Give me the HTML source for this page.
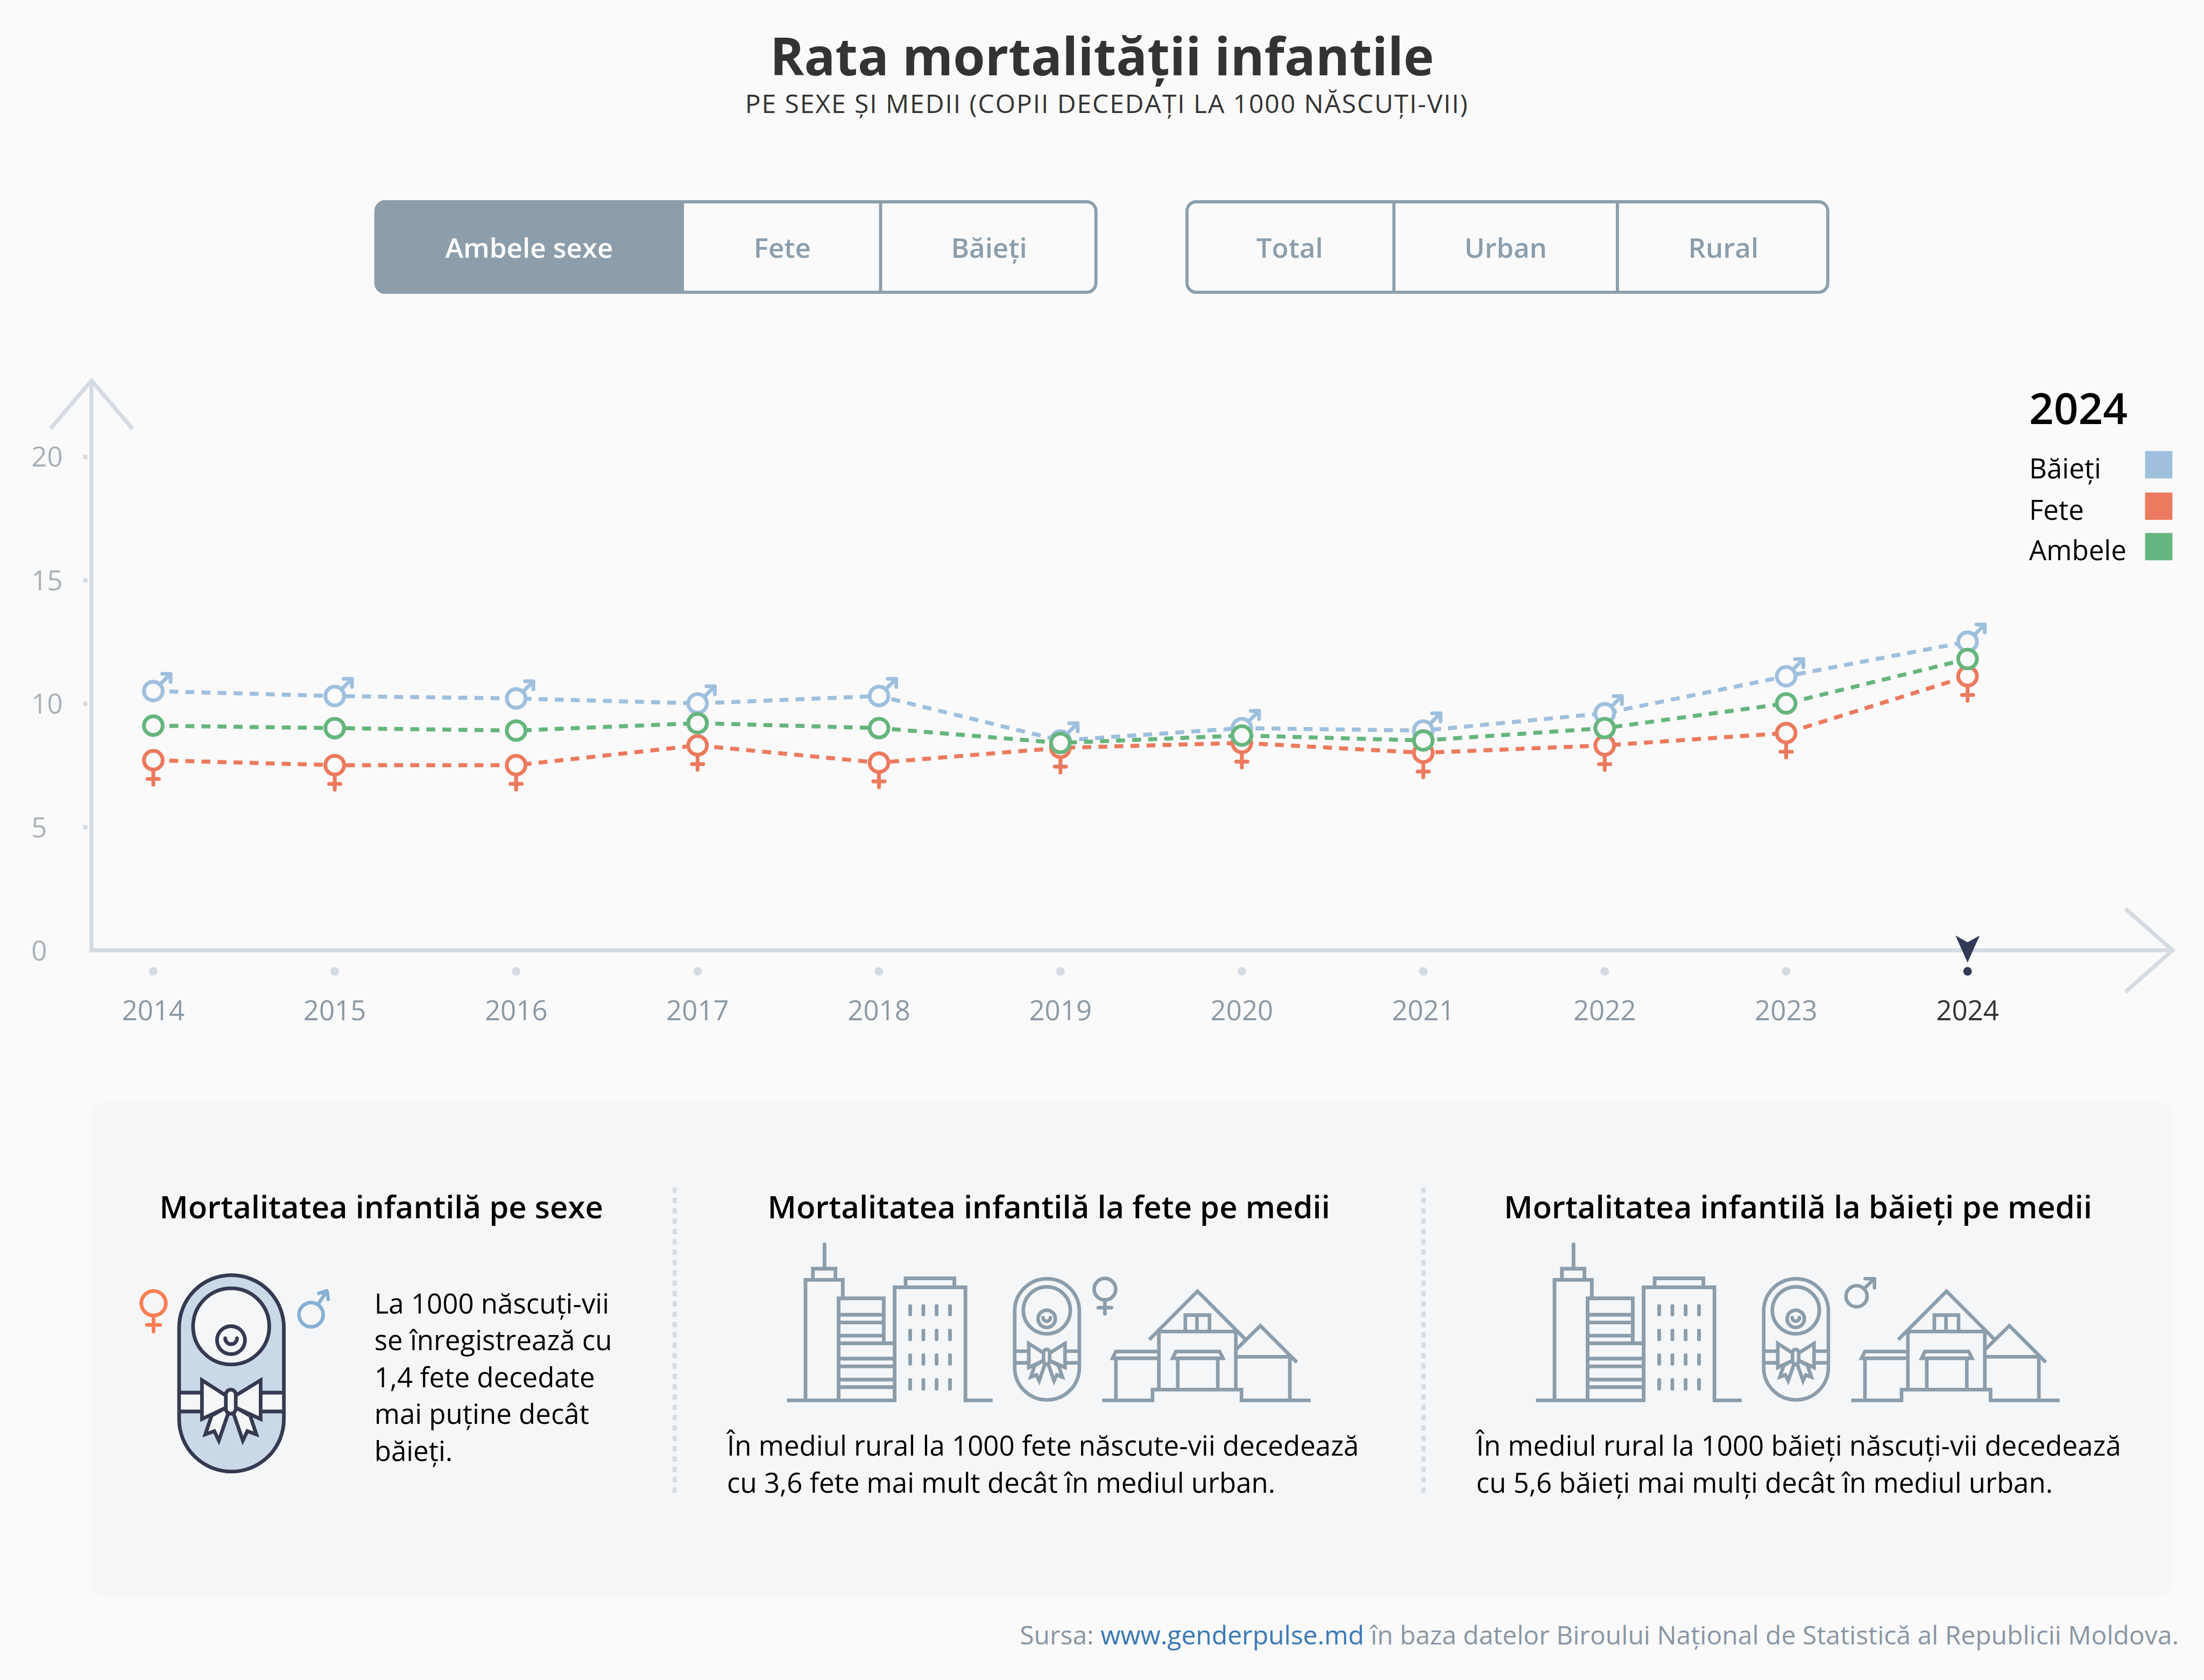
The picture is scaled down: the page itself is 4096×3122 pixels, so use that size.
<!DOCTYPE html>
<html lang="ro"><head><meta charset="utf-8"><title>Rata mortalității infantile</title>
<style>
html,body{margin:0;padding:0;background:#fafafa;}
body{width:4096px;height:3122px;position:relative;overflow:hidden;font-family:'Open Sans', 'Liberation Sans', Arial, sans-serif;}
svg text{font-family:'Open Sans', 'Liberation Sans', Arial, sans-serif;}
</style></head><body>
<svg width="4096" height="3122" viewBox="0 0 4096 3122" style="position:absolute;left:0;top:0;font-family:'Open Sans', 'Liberation Sans', Arial, sans-serif">
<rect x="0" y="0" width="4096" height="3122" fill="#fafafa"/>
<text x="2048" y="140" font-size="96" fill="#333333" font-weight="700" text-anchor="middle" textLength="1233.9844" lengthAdjust="spacingAndGlyphs">Rata mortalității infantile</text>
<text x="1384.8" y="210.2" font-size="48" fill="#333333" font-weight="400" text-anchor="start" letter-spacing="1.92" textLength="1344.6094" lengthAdjust="spacingAndGlyphs">PE SEXE ȘI MEDII (COPII DECEDAȚI LA 1000 NĂSCUȚI-VII)</text>
<path d="M715.8 372.1 H1271.1 V546 H715.8 A20 20 0 0 1 695.8 526 V392.1 A20 20 0 0 1 715.8 372.1 Z" fill="#8c9eab"/>
<rect x="698.7" y="375" width="1338" height="168.1" rx="17.1" fill="none" stroke="#8c9eab" stroke-width="5.8"/>
<line x1="1636.5" y1="372.1" x2="1636.5" y2="546" stroke="#8c9eab" stroke-width="5.8"/>
<rect x="2205.9" y="375" width="1190.9" height="168.1" rx="17.1" fill="none" stroke="#8c9eab" stroke-width="5.8"/>
<line x1="2590.5" y1="372.1" x2="2590.5" y2="546" stroke="#8c9eab" stroke-width="5.8"/>
<line x1="3005.9" y1="372.1" x2="3005.9" y2="546" stroke="#8c9eab" stroke-width="5.8"/>
<text x="983.45" y="479.3" font-size="51" fill="#ffffff" font-weight="600" text-anchor="middle" textLength="312.0625" lengthAdjust="spacingAndGlyphs">Ambele sexe</text>
<text x="1453.8" y="479.3" font-size="51" fill="#8c9eab" font-weight="600" text-anchor="middle" textLength="106.1094" lengthAdjust="spacingAndGlyphs">Fete</text>
<text x="1838.05" y="479.3" font-size="51" fill="#8c9eab" font-weight="600" text-anchor="middle" textLength="141.2031" lengthAdjust="spacingAndGlyphs">Băieți</text>
<text x="2396.75" y="479.3" font-size="51" fill="#8c9eab" font-weight="600" text-anchor="middle" textLength="123.9219" lengthAdjust="spacingAndGlyphs">Total</text>
<text x="2798.2" y="479.3" font-size="51" fill="#8c9eab" font-weight="600" text-anchor="middle" textLength="153.6250" lengthAdjust="spacingAndGlyphs">Urban</text>
<text x="3202.8" y="479.3" font-size="51" fill="#8c9eab" font-weight="600" text-anchor="middle" textLength="130.7969" lengthAdjust="spacingAndGlyphs">Rural</text>
<g fill="none" stroke="#d4dbe2" stroke-width="7.5">
<line x1="170" y1="708" x2="170" y2="1769.75"/>
<polyline points="94,796.4 170,707.2 246,796.4" stroke-linejoin="miter" stroke-miterlimit="10"/>
<line x1="166.25" y1="1766" x2="4038" y2="1766"/>
<polyline points="3950,1688.6 4037.5,1766 3950,1843.4" stroke-linejoin="miter" stroke-miterlimit="10"/>
</g>
<rect x="154.5" y="845" width="8" height="8" fill="#d4dbe2"/>
<rect x="154.5" y="1074.4" width="8" height="8" fill="#d4dbe2"/>
<rect x="154.5" y="1303.8" width="8" height="8" fill="#d4dbe2"/>
<rect x="154.5" y="1533.2" width="8" height="8" fill="#d4dbe2"/>
<text x="58.3" y="867.4" font-size="51" fill="#a9b1b8" font-weight="400" text-anchor="start" textLength="58.3281" lengthAdjust="spacingAndGlyphs">20</text>
<text x="58.3" y="1096.8" font-size="51" fill="#a9b1b8" font-weight="400" text-anchor="start" textLength="58.3281" lengthAdjust="spacingAndGlyphs">15</text>
<text x="58.3" y="1326.2" font-size="51" fill="#a9b1b8" font-weight="400" text-anchor="start" textLength="58.3281" lengthAdjust="spacingAndGlyphs">10</text>
<text x="58.3" y="1555.6" font-size="51" fill="#a9b1b8" font-weight="400" text-anchor="start" textLength="29.1719" lengthAdjust="spacingAndGlyphs">5</text>
<text x="58.3" y="1785" font-size="51" fill="#a9b1b8" font-weight="400" text-anchor="start" textLength="29.1719" lengthAdjust="spacingAndGlyphs">0</text>
<circle cx="284.9" cy="1805.2" r="8" fill="#d4dbe2"/>
<text x="284.9" y="1896.3" font-size="51" fill="#8c99a5" font-weight="400" text-anchor="middle" textLength="116.6562" lengthAdjust="spacingAndGlyphs">2014</text>
<circle cx="622.07" cy="1805.2" r="8" fill="#d4dbe2"/>
<text x="622.07" y="1896.3" font-size="51" fill="#8c99a5" font-weight="400" text-anchor="middle" textLength="116.6562" lengthAdjust="spacingAndGlyphs">2015</text>
<circle cx="959.24" cy="1805.2" r="8" fill="#d4dbe2"/>
<text x="959.24" y="1896.3" font-size="51" fill="#8c99a5" font-weight="400" text-anchor="middle" textLength="116.6562" lengthAdjust="spacingAndGlyphs">2016</text>
<circle cx="1296.41" cy="1805.2" r="8" fill="#d4dbe2"/>
<text x="1296.41" y="1896.3" font-size="51" fill="#8c99a5" font-weight="400" text-anchor="middle" textLength="116.6562" lengthAdjust="spacingAndGlyphs">2017</text>
<circle cx="1633.58" cy="1805.2" r="8" fill="#d4dbe2"/>
<text x="1633.58" y="1896.3" font-size="51" fill="#8c99a5" font-weight="400" text-anchor="middle" textLength="116.6562" lengthAdjust="spacingAndGlyphs">2018</text>
<circle cx="1970.75" cy="1805.2" r="8" fill="#d4dbe2"/>
<text x="1970.75" y="1896.3" font-size="51" fill="#8c99a5" font-weight="400" text-anchor="middle" textLength="116.6562" lengthAdjust="spacingAndGlyphs">2019</text>
<circle cx="2307.92" cy="1805.2" r="8" fill="#d4dbe2"/>
<text x="2307.92" y="1896.3" font-size="51" fill="#8c99a5" font-weight="400" text-anchor="middle" textLength="116.6562" lengthAdjust="spacingAndGlyphs">2020</text>
<circle cx="2645.09" cy="1805.2" r="8" fill="#d4dbe2"/>
<text x="2645.09" y="1896.3" font-size="51" fill="#8c99a5" font-weight="400" text-anchor="middle" textLength="116.6562" lengthAdjust="spacingAndGlyphs">2021</text>
<circle cx="2982.26" cy="1805.2" r="8" fill="#d4dbe2"/>
<text x="2982.26" y="1896.3" font-size="51" fill="#8c99a5" font-weight="400" text-anchor="middle" textLength="116.6562" lengthAdjust="spacingAndGlyphs">2022</text>
<circle cx="3319.43" cy="1805.2" r="8" fill="#d4dbe2"/>
<text x="3319.43" y="1896.3" font-size="51" fill="#8c99a5" font-weight="400" text-anchor="middle" textLength="116.6562" lengthAdjust="spacingAndGlyphs">2023</text>
<path d="M3634.1 1738.4 L3656.6 1751.1 L3679.1 1738.4 L3656.6 1788.8 Z" fill="#323a56"/>
<circle cx="3656.6" cy="1805.1" r="8" fill="#323a56"/>
<text x="3656.6" y="1896.3" font-size="51" fill="#333333" font-weight="400" text-anchor="middle" textLength="116.6562" lengthAdjust="spacingAndGlyphs">2024</text>
<polyline points="284.9,1284.26 622.07,1293.44 959.24,1298.02 1296.41,1307.2 1633.58,1293.44 1970.75,1376.02 2307.92,1353.08 2645.09,1357.67 2982.26,1325.55 3319.43,1256.73 3656.6,1192.5" fill="none" stroke="#9fc0dd" stroke-width="7.5" stroke-dasharray="16.6 13.25"/>
<path d="M297.2 1271.96 L316.9 1252.26 M301.4 1252.26 L316.9 1252.26 L316.9 1267.26" fill="none" stroke="#9fc0dd" stroke-width="7.1" stroke-linecap="round" stroke-linejoin="round"/>
<circle cx="284.9" cy="1284.26" r="17.4" fill="#fafafa" stroke="#9fc0dd" stroke-width="7.1"/>
<path d="M634.37 1281.13 L654.07 1261.44 M638.57 1261.44 L654.07 1261.44 L654.07 1276.44" fill="none" stroke="#9fc0dd" stroke-width="7.1" stroke-linecap="round" stroke-linejoin="round"/>
<circle cx="622.07" cy="1293.44" r="17.4" fill="#fafafa" stroke="#9fc0dd" stroke-width="7.1"/>
<path d="M971.54 1285.72 L991.24 1266.02 M975.74 1266.02 L991.24 1266.02 L991.24 1281.02" fill="none" stroke="#9fc0dd" stroke-width="7.1" stroke-linecap="round" stroke-linejoin="round"/>
<circle cx="959.24" cy="1298.02" r="17.4" fill="#fafafa" stroke="#9fc0dd" stroke-width="7.1"/>
<path d="M1308.71 1294.9 L1328.41 1275.2 M1312.91 1275.2 L1328.41 1275.2 L1328.41 1290.2" fill="none" stroke="#9fc0dd" stroke-width="7.1" stroke-linecap="round" stroke-linejoin="round"/>
<circle cx="1296.41" cy="1307.2" r="17.4" fill="#fafafa" stroke="#9fc0dd" stroke-width="7.1"/>
<path d="M1645.88 1281.13 L1665.58 1261.44 M1650.08 1261.44 L1665.58 1261.44 L1665.58 1276.44" fill="none" stroke="#9fc0dd" stroke-width="7.1" stroke-linecap="round" stroke-linejoin="round"/>
<circle cx="1633.58" cy="1293.44" r="17.4" fill="#fafafa" stroke="#9fc0dd" stroke-width="7.1"/>
<path d="M1983.05 1363.72 L2002.75 1344.02 M1987.25 1344.02 L2002.75 1344.02 L2002.75 1359.02" fill="none" stroke="#9fc0dd" stroke-width="7.1" stroke-linecap="round" stroke-linejoin="round"/>
<circle cx="1970.75" cy="1376.02" r="17.4" fill="#fafafa" stroke="#9fc0dd" stroke-width="7.1"/>
<path d="M2320.22 1340.78 L2339.92 1321.08 M2324.42 1321.08 L2339.92 1321.08 L2339.92 1336.08" fill="none" stroke="#9fc0dd" stroke-width="7.1" stroke-linecap="round" stroke-linejoin="round"/>
<circle cx="2307.92" cy="1353.08" r="17.4" fill="#fafafa" stroke="#9fc0dd" stroke-width="7.1"/>
<path d="M2657.39 1345.36 L2677.09 1325.67 M2661.59 1325.67 L2677.09 1325.67 L2677.09 1340.67" fill="none" stroke="#9fc0dd" stroke-width="7.1" stroke-linecap="round" stroke-linejoin="round"/>
<circle cx="2645.09" cy="1357.67" r="17.4" fill="#fafafa" stroke="#9fc0dd" stroke-width="7.1"/>
<path d="M2994.56 1313.25 L3014.26 1293.55 M2998.76 1293.55 L3014.26 1293.55 L3014.26 1308.55" fill="none" stroke="#9fc0dd" stroke-width="7.1" stroke-linecap="round" stroke-linejoin="round"/>
<circle cx="2982.26" cy="1325.55" r="17.4" fill="#fafafa" stroke="#9fc0dd" stroke-width="7.1"/>
<path d="M3331.73 1244.43 L3351.43 1224.73 M3335.93 1224.73 L3351.43 1224.73 L3351.43 1239.73" fill="none" stroke="#9fc0dd" stroke-width="7.1" stroke-linecap="round" stroke-linejoin="round"/>
<circle cx="3319.43" cy="1256.73" r="17.4" fill="#fafafa" stroke="#9fc0dd" stroke-width="7.1"/>
<path d="M3668.9 1180.2 L3688.6 1160.5 M3673.1 1160.5 L3688.6 1160.5 L3688.6 1175.5" fill="none" stroke="#9fc0dd" stroke-width="7.1" stroke-linecap="round" stroke-linejoin="round"/>
<circle cx="3656.6" cy="1192.5" r="17.4" fill="#fafafa" stroke="#9fc0dd" stroke-width="7.1"/>
<polyline points="284.9,1412.72 622.07,1421.9 959.24,1421.9 1296.41,1385.2 1633.58,1417.31 1970.75,1389.78 2307.92,1380.61 2645.09,1398.96 2982.26,1385.2 3319.43,1362.26 3656.6,1256.73" fill="none" stroke="#ec7a5e" stroke-width="7.5" stroke-dasharray="16.6 13.25"/>
<path d="M284.9 1430.12 V1458.32 M274.4 1447.52 H295.4" fill="none" stroke="#ec7a5e" stroke-width="7.1" stroke-linecap="round"/>
<circle cx="284.9" cy="1412.72" r="17.4" fill="#fafafa" stroke="#ec7a5e" stroke-width="7.1"/>
<path d="M622.07 1439.3 V1467.5 M611.57 1456.7 H632.57" fill="none" stroke="#ec7a5e" stroke-width="7.1" stroke-linecap="round"/>
<circle cx="622.07" cy="1421.9" r="17.4" fill="#fafafa" stroke="#ec7a5e" stroke-width="7.1"/>
<path d="M959.24 1439.3 V1467.5 M948.74 1456.7 H969.74" fill="none" stroke="#ec7a5e" stroke-width="7.1" stroke-linecap="round"/>
<circle cx="959.24" cy="1421.9" r="17.4" fill="#fafafa" stroke="#ec7a5e" stroke-width="7.1"/>
<path d="M1296.41 1402.6 V1430.8 M1285.91 1420 H1306.91" fill="none" stroke="#ec7a5e" stroke-width="7.1" stroke-linecap="round"/>
<circle cx="1296.41" cy="1385.2" r="17.4" fill="#fafafa" stroke="#ec7a5e" stroke-width="7.1"/>
<path d="M1633.58 1434.71 V1462.91 M1623.08 1452.11 H1644.08" fill="none" stroke="#ec7a5e" stroke-width="7.1" stroke-linecap="round"/>
<circle cx="1633.58" cy="1417.31" r="17.4" fill="#fafafa" stroke="#ec7a5e" stroke-width="7.1"/>
<path d="M1970.75 1407.18 V1435.38 M1960.25 1424.58 H1981.25" fill="none" stroke="#ec7a5e" stroke-width="7.1" stroke-linecap="round"/>
<circle cx="1970.75" cy="1389.78" r="17.4" fill="#fafafa" stroke="#ec7a5e" stroke-width="7.1"/>
<path d="M2307.92 1398.01 V1426.21 M2297.42 1415.41 H2318.42" fill="none" stroke="#ec7a5e" stroke-width="7.1" stroke-linecap="round"/>
<circle cx="2307.92" cy="1380.61" r="17.4" fill="#fafafa" stroke="#ec7a5e" stroke-width="7.1"/>
<path d="M2645.09 1416.36 V1444.56 M2634.59 1433.76 H2655.59" fill="none" stroke="#ec7a5e" stroke-width="7.1" stroke-linecap="round"/>
<circle cx="2645.09" cy="1398.96" r="17.4" fill="#fafafa" stroke="#ec7a5e" stroke-width="7.1"/>
<path d="M2982.26 1402.6 V1430.8 M2971.76 1420 H2992.76" fill="none" stroke="#ec7a5e" stroke-width="7.1" stroke-linecap="round"/>
<circle cx="2982.26" cy="1385.2" r="17.4" fill="#fafafa" stroke="#ec7a5e" stroke-width="7.1"/>
<path d="M3319.43 1379.66 V1407.86 M3308.93 1397.06 H3329.93" fill="none" stroke="#ec7a5e" stroke-width="7.1" stroke-linecap="round"/>
<circle cx="3319.43" cy="1362.26" r="17.4" fill="#fafafa" stroke="#ec7a5e" stroke-width="7.1"/>
<path d="M3656.6 1274.13 V1302.33 M3646.1 1291.53 H3667.1" fill="none" stroke="#ec7a5e" stroke-width="7.1" stroke-linecap="round"/>
<circle cx="3656.6" cy="1256.73" r="17.4" fill="#fafafa" stroke="#ec7a5e" stroke-width="7.1"/>
<polyline points="284.9,1348.49 622.07,1353.08 959.24,1357.67 1296.41,1343.9 1633.58,1353.08 1970.75,1380.61 2307.92,1366.84 2645.09,1376.02 2982.26,1353.08 3319.43,1307.2 3656.6,1224.62" fill="none" stroke="#66b57e" stroke-width="7.5" stroke-dasharray="16.6 13.25"/>
<circle cx="284.9" cy="1348.49" r="17.4" fill="#fafafa" stroke="#66b57e" stroke-width="7.1"/>
<circle cx="622.07" cy="1353.08" r="17.4" fill="#fafafa" stroke="#66b57e" stroke-width="7.1"/>
<circle cx="959.24" cy="1357.67" r="17.4" fill="#fafafa" stroke="#66b57e" stroke-width="7.1"/>
<circle cx="1296.41" cy="1343.9" r="17.4" fill="#fafafa" stroke="#66b57e" stroke-width="7.1"/>
<circle cx="1633.58" cy="1353.08" r="17.4" fill="#fafafa" stroke="#66b57e" stroke-width="7.1"/>
<circle cx="1970.75" cy="1380.61" r="17.4" fill="#fafafa" stroke="#66b57e" stroke-width="7.1"/>
<circle cx="2307.92" cy="1366.84" r="17.4" fill="#fafafa" stroke="#66b57e" stroke-width="7.1"/>
<circle cx="2645.09" cy="1376.02" r="17.4" fill="#fafafa" stroke="#66b57e" stroke-width="7.1"/>
<circle cx="2982.26" cy="1353.08" r="17.4" fill="#fafafa" stroke="#66b57e" stroke-width="7.1"/>
<circle cx="3319.43" cy="1307.2" r="17.4" fill="#fafafa" stroke="#66b57e" stroke-width="7.1"/>
<circle cx="3656.6" cy="1224.62" r="17.4" fill="#fafafa" stroke="#66b57e" stroke-width="7.1"/>
<text x="3771" y="787.9" font-size="80" fill="#000000" font-weight="600" text-anchor="start" textLength="182.9688" lengthAdjust="spacingAndGlyphs">2024</text>
<text x="3771" y="888.6" font-size="51" fill="#000000" font-weight="400" text-anchor="start" textLength="133.8594" lengthAdjust="spacingAndGlyphs">Băieți</text>
<rect x="3986.5" y="838.2" width="50.8" height="50.8" fill="#9fc0dd"/>
<text x="3771" y="965.7" font-size="51" fill="#000000" font-weight="400" text-anchor="start" textLength="101.7812" lengthAdjust="spacingAndGlyphs">Fete</text>
<rect x="3986.5" y="915.3" width="50.8" height="50.8" fill="#ec7a5e"/>
<text x="3771" y="1040.8" font-size="51" fill="#000000" font-weight="400" text-anchor="start" textLength="180.8281" lengthAdjust="spacingAndGlyphs">Ambele</text>
<rect x="3986.5" y="990.4" width="50.8" height="50.8" fill="#66b57e"/>
<rect x="169.7" y="2048" width="3867" height="918.7" rx="22" fill="#f5f6f8"/>
<line x1="1253.8" y1="2206.7" x2="1253.8" y2="2774.2" stroke="#d6dde5" stroke-width="8" stroke-dasharray="10 9.22"/>
<line x1="2645.5" y1="2206.7" x2="2645.5" y2="2774.2" stroke="#d6dde5" stroke-width="8" stroke-dasharray="10 9.22"/>
<text x="708.6" y="2264.4" font-size="58" fill="#000000" font-weight="600" text-anchor="middle" textLength="824.5469" lengthAdjust="spacingAndGlyphs">Mortalitatea infantilă pe sexe</text>
<text x="1949.2" y="2264.4" font-size="58" fill="#000000" font-weight="600" text-anchor="middle" textLength="1045.4531" lengthAdjust="spacingAndGlyphs">Mortalitatea infantilă la fete pe medii</text>
<text x="3341.6" y="2264.4" font-size="58" fill="#000000" font-weight="600" text-anchor="middle" textLength="1093.1406" lengthAdjust="spacingAndGlyphs">Mortalitatea infantilă la băieți pe medii</text>
<text x="695.7" y="2440.5" font-size="51" fill="#000000" font-weight="400" text-anchor="start" textLength="436.4219" lengthAdjust="spacingAndGlyphs">La 1000 născuți-vii</text>
<text x="695.7" y="2509.1" font-size="51" fill="#000000" font-weight="400" text-anchor="start" textLength="441.9062" lengthAdjust="spacingAndGlyphs">se înregistrează cu</text>
<text x="695.7" y="2577.7" font-size="51" fill="#000000" font-weight="400" text-anchor="start" textLength="409.9062" lengthAdjust="spacingAndGlyphs">1,4 fete decedate</text>
<text x="695.7" y="2646.3" font-size="51" fill="#000000" font-weight="400" text-anchor="start" textLength="399.1719" lengthAdjust="spacingAndGlyphs">mai puține decât</text>
<text x="695.7" y="2714.9" font-size="51" fill="#000000" font-weight="400" text-anchor="start" textLength="145.5156" lengthAdjust="spacingAndGlyphs">băieți.</text>
<text x="1351" y="2704.6" font-size="51" fill="#000000" font-weight="400" text-anchor="start" textLength="1174.4062" lengthAdjust="spacingAndGlyphs">În mediul rural la 1000 fete născute-vii decedează</text>
<text x="1351" y="2773.9" font-size="51" fill="#000000" font-weight="400" text-anchor="start" textLength="1019.1562" lengthAdjust="spacingAndGlyphs">cu 3,6 fete mai mult decât în mediul urban.</text>
<text x="2743.6" y="2704.6" font-size="51" fill="#000000" font-weight="400" text-anchor="start" textLength="1198.1406" lengthAdjust="spacingAndGlyphs">În mediul rural la 1000 băieți născuți-vii decedează</text>
<text x="2743.6" y="2773.9" font-size="51" fill="#000000" font-weight="400" text-anchor="start" textLength="1071.5312" lengthAdjust="spacingAndGlyphs">cu 5,6 băieți mai mulți decât în mediul urban.</text>
<g fill="none" stroke="#353a50" stroke-width="6.8" stroke-linejoin="miter"><rect x="332.85" y="2369.7" width="194.7" height="365" rx="97.35" fill="#c9d9e8"/><rect x="336.25" y="2588" width="39.05" height="35" fill="#f5f6f8" stroke="none"/><rect x="484.4" y="2588" width="39.75" height="35" fill="#f5f6f8" stroke="none"/><path d="M332.85 2588 H375.3 M332.85 2623 H375.3 M484.4 2588 H527.55 M484.4 2623 H527.55"/><circle cx="429.6" cy="2464.9" r="70.8" fill="#f5f6f8"/><circle cx="429.3" cy="2490.5" r="26" fill="#f5f6f8"/><path d="M418.5 2487 A11 11 0 0 0 440.5 2487" stroke-linecap="round"/><polygon points="393.3,2630.7 381.5,2665.7 398.3,2659.5 406.7,2677 424.2,2626.2 419.7,2615.9" fill="#f5f6f8"/><polygon points="464.7,2630.7 476.5,2665.7 459.7,2659.5 451.3,2677 433.8,2626.2 438.3,2615.9" fill="#f5f6f8"/><polygon points="375.3,2564.8 428.95,2599.24 428.95,2611.48 375.3,2637.1" fill="#f5f6f8" stroke="none"/><polyline points="428.95,2599.24 375.3,2564.8 375.3,2637.1 428.95,2611.48" fill="none"/><polygon points="484.4,2564.8 428.95,2599.01 428.95,2611.66 484.4,2637.1" fill="#f5f6f8" stroke="none"/><polyline points="428.95,2599.01 484.4,2564.8 484.4,2637.1 428.95,2611.66" fill="none"/><rect x="419.7" y="2582.4" width="18.5" height="44.8" rx="9.25" fill="#f5f6f8"/></g>
<g fill="none" stroke="#f97f55" stroke-width="6.8" stroke-linecap="round"><circle cx="285.4" cy="2421.9" r="22.8"/><path d="M285.4 2444.7 V2474.5 M273 2462.1 H297.8"/></g>
<g fill="none" stroke="#88b0d2" stroke-width="6.7" stroke-linecap="round" stroke-linejoin="round"><circle cx="578.1" cy="2443.1" r="22.5"/><path d="M590.7 2424.5 L607.5 2399 M592.5 2403.5 L607.5 2399 L610 2414.5"/></g>
<path d="M1462.6 2602.4 H1666 M1497 2602.4 V2378.4 H1566.3 V2412.8 M1510.7 2378.4 V2357.8 H1552.6 V2378.4 M1558.5 2602.4 V2412.8 H1642.4 V2496.3 H1666 M1662.6 2602.4 V2392.2 H1794.2 V2602.4 H1844.7 M1683 2392.2 V2375.5 H1773.6 V2392.2 M1558.5 2443.2 H1642.4 M1558.5 2457.6 H1642.4 M1558.5 2482.1 H1642.4 M1558.5 2496.3 H1642.4 M1558.5 2524.8 H1662.6 M1558.5 2539.1 H1662.6 M1558.5 2563.7 H1662.6 M1558.5 2577.8 H1662.6" fill="none" stroke="#8c9dab" stroke-width="6.9" stroke-linejoin="miter"/>
<path d="M1532.3 2312.4 V2357.8 M1691.5 2427 V2442.8 M1691.5 2472.6 V2489 M1691.5 2518.4 V2534.6 M1691.5 2564.5 V2580.7 M1716 2427 V2442.8 M1716 2472.6 V2489 M1716 2518.4 V2534.6 M1716 2564.5 V2580.7 M1740.6 2427 V2442.8 M1740.6 2472.6 V2489 M1740.6 2518.4 V2534.6 M1740.6 2564.5 V2580.7 M1765.5 2427 V2442.8 M1765.5 2472.6 V2489 M1765.5 2518.4 V2534.6 M1765.5 2564.5 V2580.7" fill="none" stroke="#8c9dab" stroke-width="6.9" stroke-linecap="round"/>
<path d="M2048.4 2602.3 H2141.9 V2582.4 H2307.3 V2602.3 H2435.8 M2153.7 2582.4 V2474.3 M2296.7 2582.4 V2474.3 M2135.8 2489.7 L2225.5 2399.5 L2313.4 2487.9 M2153.7 2474.3 H2296.7 M2202.8 2474.3 V2443.8 H2247.8 V2474.3 M2224.5 2443.8 V2474.3 M2185.3 2511.6 H2266.7 L2272.8 2524.1 H2179.2 Z M2188.8 2524.1 V2582.4 M2263.2 2524.1 V2582.4 M2153.7 2511.6 H2073.7 L2067.6 2524.1 H2153.7 M2073.9 2524.1 V2602.3 M2296.7 2508.3 L2342.3 2463.7 L2410.2 2531.6 M2296.7 2521.4 H2397.1 M2397.1 2521.4 V2602.3" fill="none" stroke="#8c9dab" stroke-width="6.7" stroke-linejoin="miter"/>
<g fill="none" stroke="#8c9dab" stroke-width="6.7" stroke-linejoin="miter"><rect x="1885.74" y="2376.3" width="120.13" height="225.2" rx="60.06" fill="none"/><rect x="1889.09" y="2510.99" width="22.84" height="21.59" fill="#f5f6f8" stroke="none"/><rect x="1979.24" y="2510.99" width="23.27" height="21.59" fill="#f5f6f8" stroke="none"/><path d="M1885.74 2510.99 H1911.93 M1885.74 2532.59 H1911.93 M1979.24 2510.99 H2005.86 M1979.24 2532.59 H2005.86"/><circle cx="1945.43" cy="2435.04" r="43.68" fill="#f5f6f8"/><circle cx="1945.24" cy="2450.83" r="16.04" fill="#f5f6f8"/><path d="M1938.58 2448.67 A6.79 6.79 0 0 0 1952.16 2448.67" stroke-linecap="round"/><polygon points="1923.03,2537.34 1915.75,2558.93 1926.12,2555.11 1931.3,2565.9 1942.1,2534.56 1939.32,2528.21" fill="#f5f6f8"/><polygon points="1967.09,2537.34 1974.37,2558.93 1964,2555.11 1958.82,2565.9 1948.02,2534.56 1950.8,2528.21" fill="#f5f6f8"/><polygon points="1911.93,2496.68 1945.03,2517.92 1945.03,2525.48 1911.93,2541.29" fill="#f5f6f8" stroke="none"/><polyline points="1945.03,2517.92 1911.93,2496.68 1911.93,2541.29 1945.03,2525.48" fill="none"/><polygon points="1979.24,2496.68 1945.03,2517.78 1945.03,2525.59 1979.24,2541.29" fill="#f5f6f8" stroke="none"/><polyline points="1945.03,2517.78 1979.24,2496.68 1979.24,2541.29 1945.03,2525.59" fill="none"/><rect x="1939.32" y="2507.54" width="11.41" height="27.64" rx="5.71" fill="#f5f6f8"/></g>
<path d="M2854.6 2602.4 H3058 M2889 2602.4 V2378.4 H2958.3 V2412.8 M2902.7 2378.4 V2357.8 H2944.6 V2378.4 M2950.5 2602.4 V2412.8 H3034.4 V2496.3 H3058 M3054.6 2602.4 V2392.2 H3186.2 V2602.4 H3236.7 M3075 2392.2 V2375.5 H3165.6 V2392.2 M2950.5 2443.2 H3034.4 M2950.5 2457.6 H3034.4 M2950.5 2482.1 H3034.4 M2950.5 2496.3 H3034.4 M2950.5 2524.8 H3054.6 M2950.5 2539.1 H3054.6 M2950.5 2563.7 H3054.6 M2950.5 2577.8 H3054.6" fill="none" stroke="#8c9dab" stroke-width="6.9" stroke-linejoin="miter"/>
<path d="M2924.3 2312.4 V2357.8 M3083.5 2427 V2442.8 M3083.5 2472.6 V2489 M3083.5 2518.4 V2534.6 M3083.5 2564.5 V2580.7 M3108 2427 V2442.8 M3108 2472.6 V2489 M3108 2518.4 V2534.6 M3108 2564.5 V2580.7 M3132.6 2427 V2442.8 M3132.6 2472.6 V2489 M3132.6 2518.4 V2534.6 M3132.6 2564.5 V2580.7 M3157.5 2427 V2442.8 M3157.5 2472.6 V2489 M3157.5 2518.4 V2534.6 M3157.5 2564.5 V2580.7" fill="none" stroke="#8c9dab" stroke-width="6.9" stroke-linecap="round"/>
<path d="M3440.4 2602.3 H3533.9 V2582.4 H3699.3 V2602.3 H3827.8 M3545.7 2582.4 V2474.3 M3688.7 2582.4 V2474.3 M3527.8 2489.7 L3617.5 2399.5 L3705.4 2487.9 M3545.7 2474.3 H3688.7 M3594.8 2474.3 V2443.8 H3639.8 V2474.3 M3616.5 2443.8 V2474.3 M3577.3 2511.6 H3658.7 L3664.8 2524.1 H3571.2 Z M3580.8 2524.1 V2582.4 M3655.2 2524.1 V2582.4 M3545.7 2511.6 H3465.7 L3459.6 2524.1 H3545.7 M3465.9 2524.1 V2602.3 M3688.7 2508.3 L3734.3 2463.7 L3802.2 2531.6 M3688.7 2521.4 H3789.1 M3789.1 2521.4 V2602.3" fill="none" stroke="#8c9dab" stroke-width="6.7" stroke-linejoin="miter"/>
<g fill="none" stroke="#8c9dab" stroke-width="6.7" stroke-linejoin="miter"><rect x="3277.74" y="2376.3" width="120.13" height="225.2" rx="60.06" fill="none"/><rect x="3281.09" y="2510.99" width="22.84" height="21.59" fill="#f5f6f8" stroke="none"/><rect x="3371.24" y="2510.99" width="23.27" height="21.59" fill="#f5f6f8" stroke="none"/><path d="M3277.74 2510.99 H3303.93 M3277.74 2532.59 H3303.93 M3371.24 2510.99 H3397.86 M3371.24 2532.59 H3397.86"/><circle cx="3337.43" cy="2435.04" r="43.68" fill="#f5f6f8"/><circle cx="3337.24" cy="2450.83" r="16.04" fill="#f5f6f8"/><path d="M3330.58 2448.67 A6.79 6.79 0 0 0 3344.16 2448.67" stroke-linecap="round"/><polygon points="3315.03,2537.34 3307.75,2558.93 3318.12,2555.11 3323.3,2565.9 3334.1,2534.56 3331.32,2528.21" fill="#f5f6f8"/><polygon points="3359.09,2537.34 3366.37,2558.93 3356,2555.11 3350.82,2565.9 3340.02,2534.56 3342.8,2528.21" fill="#f5f6f8"/><polygon points="3303.93,2496.68 3337.03,2517.92 3337.03,2525.48 3303.93,2541.29" fill="#f5f6f8" stroke="none"/><polyline points="3337.03,2517.92 3303.93,2496.68 3303.93,2541.29 3337.03,2525.48" fill="none"/><polygon points="3371.24,2496.68 3337.03,2517.78 3337.03,2525.59 3371.24,2541.29" fill="#f5f6f8" stroke="none"/><polyline points="3337.03,2517.78 3371.24,2496.68 3371.24,2541.29 3337.03,2525.59" fill="none"/><rect x="3331.32" y="2507.54" width="11.41" height="27.64" rx="5.71" fill="#f5f6f8"/></g>
<g fill="none" stroke="#8c9dab" stroke-width="6.7" stroke-linecap="round"><circle cx="2053.4" cy="2395.7" r="20"/><path d="M2053.4 2415.7 V2441.5 M2041.2 2430.1 H2065.6"/></g>
<g fill="none" stroke="#8c9dab" stroke-width="6.6" stroke-linecap="round" stroke-linejoin="round"><circle cx="3450.3" cy="2408.9" r="19.6"/><path d="M3464.2 2395 L3483.6 2376.2 M3466.4 2376.2 L3483.6 2376.2 L3483.6 2393.1"/></g>
<text x="4049" y="3055.8" font-size="48" fill="#8a96a3" text-anchor="end" textLength="2153.8594" lengthAdjust="spacingAndGlyphs">Sursa: <tspan fill="#3a79b3">www.genderpulse.md</tspan> în baza datelor Biroului Național de Statistică al Republicii Moldova.</text>
</svg>
</body></html>
